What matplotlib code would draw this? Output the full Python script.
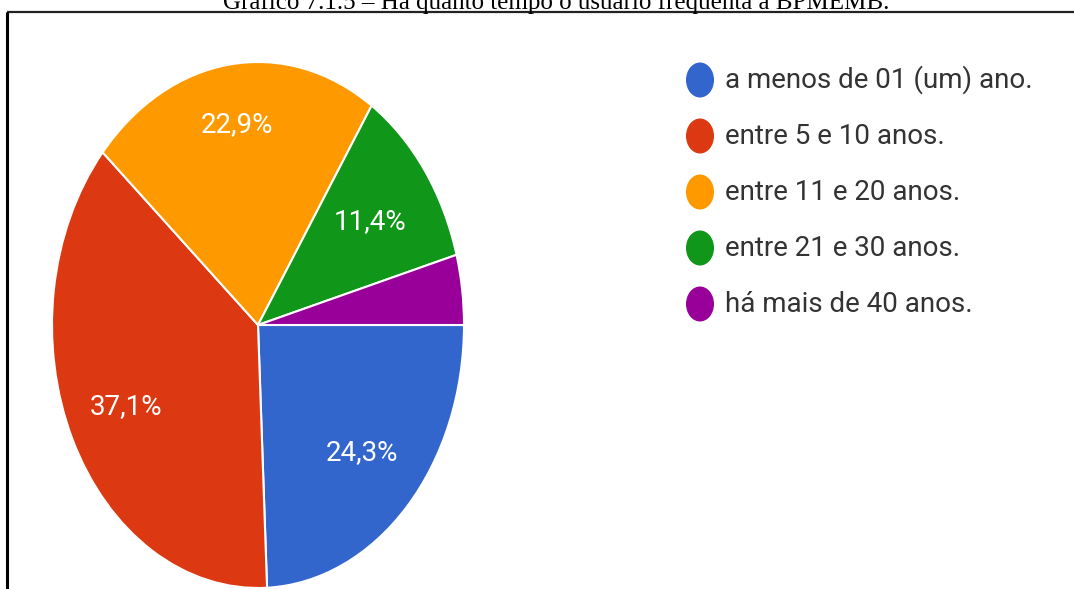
import matplotlib
matplotlib.use("Agg")
import matplotlib.pyplot as plt
from matplotlib.patches import Ellipse

# ---- data ----
categories = ["a menos de 01 (um) ano.", "entre 5 e 10 anos.", "entre 11 e 20 anos.",
              "entre 21 e 30 anos.", "há mais de 40 anos."]
values = [24.3, 37.1, 22.9, 11.4, 4.3]
colors = ["#3366CC", "#DC3912", "#FF9900", "#109618", "#990099"]
title = "Gráfico 7.1.5 – Há quanto tempo o usuário frequenta a BPMEMB."

W, H = 1074, 589
fig = plt.figure(figsize=(W / 100, H / 100), dpi=100)
fig.patch.set_facecolor("white")

# overlay axes in pixel coordinates (y downward)
ov = fig.add_axes([0, 0, 1, 1])
ov.set_xlim(0, W)
ov.set_ylim(H, 0)
ov.axis("off")

# pie axes: elliptical pie (center 258,325 ; rx 206 ; ry 263)
cx, cy, rx, ry = 258, 325, 206, 263
pax = fig.add_axes([(cx - rx) / W, (H - cy - ry) / H, 2 * rx / W, 2 * ry / H])


def fmt(p):
    # small slices are left unlabeled, as in the source chart
    return f"{p:.1f}%".replace(".", ",") if p >= 5 else ""


wedges, texts, autotexts = pax.pie(
    values, colors=colors, startangle=0, counterclock=False,
    autopct=fmt, pctdistance=0.7,
    wedgeprops=dict(edgecolor="white", linewidth=1.5),
    textprops=dict(color="white", fontsize=20, family="Roboto"))
# Google-style label radii
radii = [0.7, 0.71, 0.77, 0.67, 0.7]
for t, r in zip(autotexts, radii):
    x, y = t.get_position()
    t.set_position((x * r / 0.7, y * r / 0.7))
pax.set_aspect("auto")
pax.set_xlim(-1, 1)
pax.set_ylim(-1, 1)
pax.axis("off")

# legend
lx, ly0, dy = 700, 80, 56
for i, (lab, col) in enumerate(zip(categories, colors)):
    y = ly0 + i * dy
    ov.add_patch(Ellipse((lx, y), 28, 35, facecolor=col, edgecolor="none"))
    ov.text(lx + 25, y, lab, fontsize=20, family="Roboto", color="#333333",
            va="center", ha="left")

# title (partly cut at top) and frame lines
ov.text(556, 9, title, fontsize=18, family="Liberation Serif", color="black",
        ha="center", va="baseline")
ov.plot([7, W], [12, 12], color="#222222", lw=1.6, solid_capstyle="butt")
ov.plot([7, 7], [12, H], color="black", lw=2.2, solid_capstyle="butt")

fig.savefig("out.png", dpi=100)
